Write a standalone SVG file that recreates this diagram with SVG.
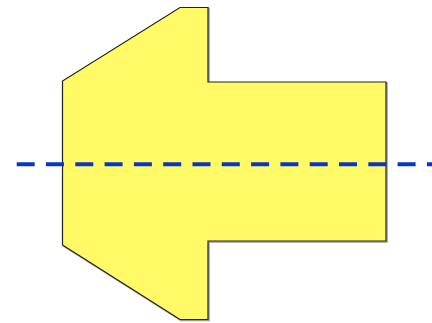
<svg xmlns="http://www.w3.org/2000/svg" width="432" height="323" viewBox="0 0 432 323">
<style>
.shape{fill:#fffa66;stroke:#222;stroke-width:1.2;stroke-linejoin:miter}
.axis{stroke:#0a36c8;stroke-width:4;stroke-dasharray:18 11.3;fill:none}
</style>
<rect width="432" height="323" fill="#fff"/>
<g id="part">
<polygon points="180,7.5 208,7.5 208,82 386,82 386,241 208,241 208,319.5 180,319.5 62.5,245 62.5,81" fill="none" stroke="#999" stroke-width="1.5" transform="translate(1,1)"/>
<polygon class="shape" points="180,7.5 208,7.5 208,82 386,82 386,241 208,241 208,319.5 180,319.5 62.5,245 62.5,81"/>
</g>
<g id="connectors">
<line class="axis" x1="16.7" y1="164.3" x2="432" y2="164.3"/>
</g>
</svg>
